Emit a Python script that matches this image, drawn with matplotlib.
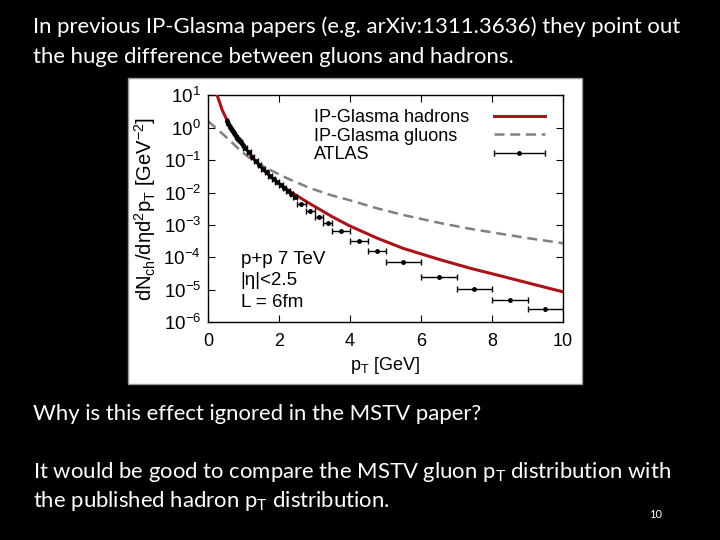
import matplotlib
matplotlib.use('Agg')
import matplotlib.pyplot as plt
from matplotlib.patches import Rectangle
from matplotlib.legend_handler import HandlerErrorbar
import numpy as np

# IP-Glasma hadrons (solid red curve)
pt_hadrons = [0.25, 0.3, 0.4, 0.48, 0.56, 0.75, 0.94, 1.1, 1.31, 1.6, 1.88, 2.3, 2.82,
              3.5, 4.0, 4.75, 5.5, 6.54, 7.4, 8.3, 9.1, 10.0]
dn_hadrons = [10.5, 7.4, 3.5, 2.3, 1.5, 0.71, 0.36, 0.2, 0.1, 0.045, 0.024, 0.011, 4.9e-3,
              1.8e-3, 9.3e-4, 4.0e-4, 1.9e-4, 8.5e-5, 4.6e-5, 2.6e-5, 1.55e-5, 8.7e-6]

# IP-Glasma gluons (dashed gray curve)
pt_gluons = [0.0, 0.3, 0.56, 0.85, 1.13, 1.4, 1.69, 2.25, 2.87, 3.5, 4.0, 4.75, 5.5,
             6.54, 7.4, 8.3, 9.1, 10.0]
dn_gluons = [1.6, 0.83, 0.46, 0.23, 0.126, 0.081, 0.054, 0.027, 0.0138, 8.1e-3, 5.8e-3,
             3.3e-3, 2.04e-3, 1.15e-3, 7.6e-4, 5.25e-4, 3.8e-4, 2.75e-4]

# ATLAS data (bin centre, half bin width, value)
pt_atlas = [0.525, 0.575, 0.625, 0.675, 0.725, 0.775, 0.825, 0.875, 0.925, 0.975,
            1.05, 1.15, 1.25, 1.35, 1.45, 1.55, 1.65, 1.75, 1.85, 1.95,
            2.05, 2.15, 2.25, 2.35, 2.45, 2.625, 2.875, 3.125, 3.375,
            3.75, 4.25, 4.75, 5.5, 6.5, 7.5, 8.5, 9.5]
pt_err = [0.025] * 10 + [0.05] * 15 + [0.125] * 4 + [0.25] * 3 + [0.5] * 5
dn_atlas = [1.66, 1.32, 1.05, 0.85, 0.69, 0.575, 0.49, 0.417, 0.355, 0.302,
            0.24, 0.174, 0.129, 0.095, 0.072, 0.055, 0.043, 0.033, 0.026, 0.021,
            0.0166, 0.0135, 0.011, 0.0089, 0.0072, 4.5e-3, 2.75e-3, 1.78e-3, 1.12e-3,
            6.5e-4, 3.2e-4, 1.62e-4, 7.1e-5, 2.5e-5, 1.07e-5, 5.0e-6, 2.6e-6]

legend_labels = ['IP-Glasma hadrons', 'IP-Glasma gluons', 'ATLAS']

fig = plt.figure(figsize=(7.2, 5.4), dpi=100)
fig.patch.set_facecolor('black')

# white panel of the pasted figure
fig.patches.append(Rectangle((128 / 720, 1 - 384 / 540), 454 / 720, 306 / 540,
                             transform=fig.transFigure, facecolor='white',
                             edgecolor='#999999', linewidth=1, zorder=-5))

slide_font = 'Lato'
fs = 15.9
fig.text(33 / 720, 1 - 27 / 540,
         'In previous IP-Glasma papers (e.g. arXiv:1311.3636) they point out',
         color='white', fontsize=fs, family=slide_font, va='center')
fig.text(33 / 720, 1 - 57 / 540, 'the huge difference between gluons and hadrons.',
         color='white', fontsize=fs, family=slide_font, va='center')
fig.text(33 / 720, 1 - 414 / 540, 'Why is this effect ignored in the MSTV paper?',
         color='white', fontsize=fs, family=slide_font, va='center')
fig.text(33 / 720, 1 - 472 / 540,
         r'It would be good to compare the MSTV gluon p$_\mathregular{T}$ distribution with',
         color='white', fontsize=fs, family=slide_font, va='center')
fig.text(33 / 720, 1 - 501 / 540, r'the published hadron p$_\mathregular{T}$ distribution.',
         color='white', fontsize=fs, family=slide_font, va='center')
fig.text(656 / 720, 1 - 515 / 540, '10', color='white', fontsize=8,
         family=slide_font, ha='center', va='center')

plt.rcParams['font.family'] = 'Liberation Sans'
ax = fig.add_axes([208 / 720, 1 - 322.3 / 540, 355 / 720, 227 / 540])
ax.set_facecolor('white')

l1, = ax.plot(pt_hadrons, dn_hadrons, color='#a8141a', lw=2.2, zorder=3)
l2, = ax.plot(pt_gluons, dn_gluons, color='#808080', lw=1.8, ls=(0, (4, 2.3)), zorder=2)
l3 = ax.errorbar(pt_atlas, dn_atlas, xerr=pt_err, fmt='o', color='black', ms=2.5,
                 elinewidth=1, capsize=2, capthick=1, zorder=4)

ax.set_yscale('log')
ax.set_xlim(0, 10)
ax.set_ylim(1e-6, 10)
ax.set_xticks([0, 2, 4, 6, 8, 10])
ax.set_yticks([10.0 ** k for k in range(-6, 2)])
ax.tick_params(which='both', direction='in', top=True, right=True, colors='black')
ax.tick_params(axis='x', labelsize=13, pad=8)
ax.tick_params(axis='y', labelsize=13.5, pad=5)
ax.tick_params(which='major', length=5)
ax.tick_params(which='minor', length=2.5)
for s in ax.spines.values():
    s.set_linewidth(1)

ax.set_xlabel(r'p$_\mathregular{T}$ [GeV]', fontsize=13, labelpad=3)
ax.set_ylabel(r'dN$_\mathregular{ch}$/dηd$^\mathregular{2}$p$_\mathregular{T}$ [GeV$^\mathregular{-2}$]',
              fontsize=14.5, labelpad=4)

ax.text(0.092, 0.276, 'p+p 7 TeV', transform=ax.transAxes, fontsize=13.5, va='center')
ax.text(0.092, 0.182, '|η|<2.5', transform=ax.transAxes, fontsize=13.5, va='center')
ax.text(0.092, 0.089, 'L = 6fm', transform=ax.transAxes, fontsize=13.5, va='center')

# gnuplot-style key: left aligned labels, samples on the right
for lab, yy in zip(legend_labels, [0.903, 0.819, 0.741]):
    ax.text(0.299, yy, lab, transform=ax.transAxes, fontsize=13, va='center')
ax.legend([l1, l2, l3], [' ', ' ', ' '], loc='upper left', bbox_to_anchor=(0.806, 0.94),
          frameon=False, fontsize=13, handlelength=2.8, handletextpad=0,
          labelspacing=0.1, borderpad=0, borderaxespad=0,
          handler_map={type(l3): HandlerErrorbar(xerr_size=1.4)})

fig.savefig('out.png', dpi=100, facecolor='black')
